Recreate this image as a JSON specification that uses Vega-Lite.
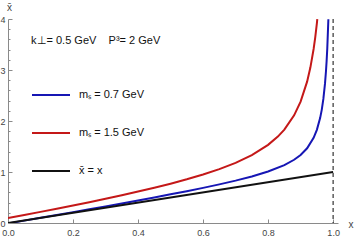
{
  "$schema": "https://vega.github.io/schema/vega-lite/v6.json",
  "autosize": {"type": "none"},
  "padding": {"left": 8, "top": 19, "right": 16, "bottom": 19},
  "width": 330,
  "height": 204,
  "config": {
    "view": {"stroke": null},
    "font": "Liberation Sans",
    "axis": {"grid": false, "domainColor": "#8a8a8a", "tickColor": "#8a8a8a", "labelColor": "#444", "labelFontSize": 9, "titleFontSize": 10, "titleFontWeight": "normal", "titleColor": "#444", "labelOverlap": false, "labelBound": false, "labelFlush": false}
  },
  "datasets": {
    "curves": [
      {"x": 0, "y": -0.0083, "s": "mₛ = 0.7 GeV"},
      {"x": 0.05, "y": 0.0466, "s": "mₛ = 0.7 GeV"},
      {"x": 0.1, "y": 0.1018, "s": "mₛ = 0.7 GeV"},
      {"x": 0.15, "y": 0.1573, "s": "mₛ = 0.7 GeV"},
      {"x": 0.2, "y": 0.2131, "s": "mₛ = 0.7 GeV"},
      {"x": 0.25, "y": 0.2694, "s": "mₛ = 0.7 GeV"},
      {"x": 0.3, "y": 0.3262, "s": "mₛ = 0.7 GeV"},
      {"x": 0.35, "y": 0.3836, "s": "mₛ = 0.7 GeV"},
      {"x": 0.4, "y": 0.4419, "s": "mₛ = 0.7 GeV"},
      {"x": 0.45, "y": 0.5012, "s": "mₛ = 0.7 GeV"},
      {"x": 0.5, "y": 0.5618, "s": "mₛ = 0.7 GeV"},
      {"x": 0.55, "y": 0.6241, "s": "mₛ = 0.7 GeV"},
      {"x": 0.6, "y": 0.689, "s": "mₛ = 0.7 GeV"},
      {"x": 0.65, "y": 0.7573, "s": "mₛ = 0.7 GeV"},
      {"x": 0.7, "y": 0.8308, "s": "mₛ = 0.7 GeV"},
      {"x": 0.75, "y": 0.9127, "s": "mₛ = 0.7 GeV"},
      {"x": 0.8, "y": 1.0093, "s": "mₛ = 0.7 GeV"},
      {"x": 0.85, "y": 1.1352, "s": "mₛ = 0.7 GeV"},
      {"x": 0.88, "y": 1.24, "s": "mₛ = 0.7 GeV"},
      {"x": 0.9, "y": 1.3343, "s": "mₛ = 0.7 GeV"},
      {"x": 0.92, "y": 1.4653, "s": "mₛ = 0.7 GeV"},
      {"x": 0.94, "y": 1.6696, "s": "mₛ = 0.7 GeV"},
      {"x": 0.95, "y": 1.8262, "s": "mₛ = 0.7 GeV"},
      {"x": 0.96, "y": 2.0565, "s": "mₛ = 0.7 GeV"},
      {"x": 0.965, "y": 2.2189, "s": "mₛ = 0.7 GeV"},
      {"x": 0.97, "y": 2.4332, "s": "mₛ = 0.7 GeV"},
      {"x": 0.975, "y": 2.7323, "s": "mₛ = 0.7 GeV"},
      {"x": 0.978, "y": 2.9747, "s": "mₛ = 0.7 GeV"},
      {"x": 0.98, "y": 3.1761, "s": "mₛ = 0.7 GeV"},
      {"x": 0.982, "y": 3.423, "s": "mₛ = 0.7 GeV"},
      {"x": 0.9854, "y": 3.995, "s": "mₛ = 0.7 GeV"},
      {"x": 0, "y": 0.0962, "s": "mₛ = 1.5 GeV"},
      {"x": 0.05, "y": 0.1566, "s": "mₛ = 1.5 GeV"},
      {"x": 0.1, "y": 0.218, "s": "mₛ = 1.5 GeV"},
      {"x": 0.15, "y": 0.2803, "s": "mₛ = 1.5 GeV"},
      {"x": 0.2, "y": 0.3438, "s": "mₛ = 1.5 GeV"},
      {"x": 0.25, "y": 0.4088, "s": "mₛ = 1.5 GeV"},
      {"x": 0.3, "y": 0.4755, "s": "mₛ = 1.5 GeV"},
      {"x": 0.35, "y": 0.5445, "s": "mₛ = 1.5 GeV"},
      {"x": 0.4, "y": 0.6161, "s": "mₛ = 1.5 GeV"},
      {"x": 0.45, "y": 0.6912, "s": "mₛ = 1.5 GeV"},
      {"x": 0.5, "y": 0.7708, "s": "mₛ = 1.5 GeV"},
      {"x": 0.55, "y": 0.8564, "s": "mₛ = 1.5 GeV"},
      {"x": 0.6, "y": 0.9503, "s": "mₛ = 1.5 GeV"},
      {"x": 0.65, "y": 1.056, "s": "mₛ = 1.5 GeV"},
      {"x": 0.7, "y": 1.1793, "s": "mₛ = 1.5 GeV"},
      {"x": 0.75, "y": 1.3309, "s": "mₛ = 1.5 GeV"},
      {"x": 0.8, "y": 1.532, "s": "mₛ = 1.5 GeV"},
      {"x": 0.83, "y": 1.6946, "s": "mₛ = 1.5 GeV"},
      {"x": 0.85, "y": 1.832, "s": "mₛ = 1.5 GeV"},
      {"x": 0.88, "y": 2.1111, "s": "mₛ = 1.5 GeV"},
      {"x": 0.9, "y": 2.3797, "s": "mₛ = 1.5 GeV"},
      {"x": 0.92, "y": 2.7721, "s": "mₛ = 1.5 GeV"},
      {"x": 0.93, "y": 3.0477, "s": "mₛ = 1.5 GeV"},
      {"x": 0.94, "y": 3.4121, "s": "mₛ = 1.5 GeV"},
      {"x": 0.945, "y": 3.6419, "s": "mₛ = 1.5 GeV"},
      {"x": 0.95, "y": 3.9164, "s": "mₛ = 1.5 GeV"},
      {"x": 0.9513, "y": 3.998, "s": "mₛ = 1.5 GeV"},
      {"x": 0, "y": 0, "s": "x̄ = x"},
      {"x": 1, "y": 1, "s": "x̄ = x"}
    ],
    "edge": [{"x": 1}]
  },
  "layer": [
    {
      "data": {"name": "edge"},
      "mark": {"type": "rule", "color": "#333", "strokeDash": [4, 3], "strokeWidth": 1.2},
      "encoding": {"x": {"field": "x", "type": "quantitative"}}
    },
    {
      "data": {"name": "curves"},
      "mark": {"type": "line", "strokeWidth": 2, "clip": true},
      "encoding": {
        "x": {
          "field": "x", "type": "quantitative",
          "scale": {"domain": [0, 1.015], "nice": false, "zero": false},
          "axis": {
            "title": "x", "titleX": 340, "titleY": 1, "titleAlign": "left", "titleBaseline": "middle", "titleAngle": 0,
            "values": [0,0.05,0.1,0.15,0.2,0.25,0.3,0.35,0.4,0.45,0.5,0.55,0.6,0.65,0.7,0.75,0.8,0.85,0.9,0.95,1],
            "tickSize": {"condition": {"test": "abs(datum.value*5 - round(datum.value*5)) < 0.001", "value": -4}, "value": -2},
            "labelExpr": "abs(datum.value*5 - round(datum.value*5)) < 0.001 ? format(datum.value, '.1f') : ''",
            "labelPadding": 9, "labelBaseline": "top"
          }
        },
        "y": {
          "field": "y", "type": "quantitative",
          "scale": {"domain": [0, 4], "nice": false, "zero": false},
          "axis": {
            "title": "x̄", "titleX": 1, "titleY": -12, "titleAlign": "center", "titleBaseline": "middle", "titleAngle": 0,
            "values": [0,0.2,0.4,0.6,0.8,1,1.2,1.4,1.6,1.8,2,2.2,2.4,2.6,2.8,3,3.2,3.4,3.6,3.8,4],
            "tickSize": {"condition": {"test": "abs(datum.value - round(datum.value)) < 0.001", "value": -4}, "value": -2},
            "labelExpr": "abs(datum.value - round(datum.value)) < 0.001 ? format(datum.value, 'd') : ''",
            "labelPadding": 7, "labelAlign": "right"
          }
        },
        "color": {
          "field": "s", "type": "nominal",
          "scale": {"domain": ["mₛ = 0.7 GeV", "mₛ = 1.5 GeV", "x̄ = x"], "range": ["#1616b4", "#c41818", "#111111"]},
          "legend": {
            "orient": "none", "legendX": 23, "legendY": 16,
            "title": "k⊥= 0.5 GeV\u00a0\u00a0\u00a0\u00a0P³= 2 GeV", "titleFontSize": 11, "titleFontWeight": "normal", "titleColor": "#111", "titlePadding": 29,
            "symbolType": "stroke", "symbolSize": 1444, "symbolStrokeWidth": 2,
            "labelFontSize": 11, "labelColor": "#111", "labelOffset": 8, "rowPadding": 13
          }
        }
      }
    }
  ]
}
